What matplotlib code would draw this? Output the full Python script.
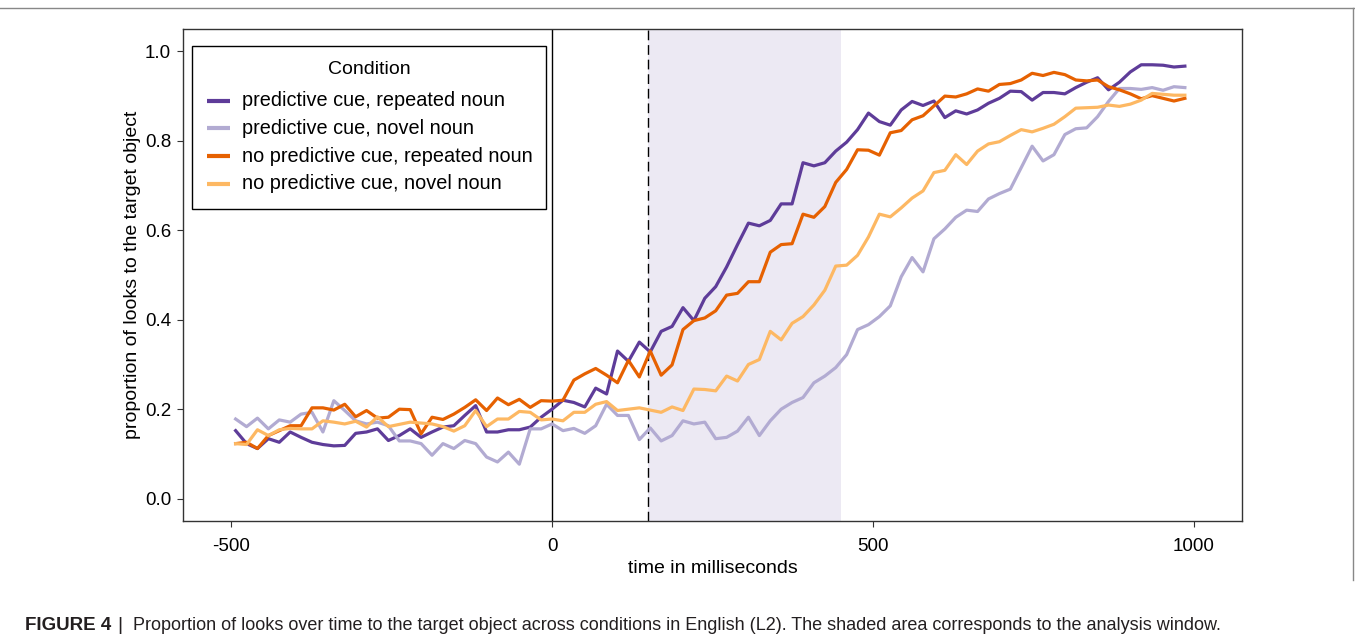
import numpy as np
import matplotlib
matplotlib.use("Agg")
import matplotlib.pyplot as plt
from matplotlib.lines import Line2D
from matplotlib.patches import Rectangle

plt.rcParams['font.family'] = ['Liberation Sans', 'DejaVu Sans']

# ---- data ----
time_ms = np.arange(-493, 987, 17)

labels = ["predictive cue, repeated noun", "predictive cue, novel noun",
          "no predictive cue, repeated noun", "no predictive cue, novel noun"]
colors = ["#5e3c99", "#b2abd2", "#e66101", "#fdb863"]

pred_rep = [0.152, 0.123, 0.112, 0.134, 0.126, 0.149, 0.137, 0.126, 0.121, 0.118,
            0.119, 0.146, 0.149, 0.156, 0.130, 0.141, 0.156, 0.137, 0.149, 0.160,
            0.163, 0.186, 0.208, 0.149, 0.149, 0.154, 0.154, 0.160, 0.182, 0.200,
            0.220, 0.215, 0.205, 0.247, 0.234, 0.330, 0.307, 0.350, 0.328, 0.374,
            0.385, 0.427, 0.398, 0.448, 0.474,
            0.518, 0.568, 0.616, 0.610, 0.622, 0.659, 0.659, 0.751, 0.744, 0.751,
            0.777, 0.797, 0.825, 0.862, 0.843,
            0.835, 0.869, 0.888, 0.879, 0.889, 0.852, 0.867, 0.860, 0.869, 0.884,
            0.895, 0.911, 0.910, 0.891, 0.908,
            0.908, 0.905, 0.919, 0.931, 0.941, 0.914, 0.931, 0.954, 0.970, 0.970,
            0.969, 0.965, 0.967]

pred_nov = [0.178, 0.161, 0.180, 0.156, 0.176, 0.171, 0.189, 0.193, 0.149, 0.219,
            0.197, 0.174, 0.167, 0.171, 0.163, 0.129, 0.129, 0.123, 0.097, 0.123,
            0.112, 0.130, 0.123, 0.093, 0.082, 0.104, 0.077, 0.156, 0.156, 0.167,
            0.152, 0.157, 0.146, 0.163, 0.211, 0.186, 0.186, 0.132, 0.158, 0.129,
            0.141, 0.174, 0.167, 0.171, 0.134,
            0.137, 0.151, 0.182, 0.141, 0.174, 0.200, 0.215, 0.226, 0.259, 0.274,
            0.293, 0.322, 0.378, 0.389, 0.407,
            0.431, 0.496, 0.539, 0.507, 0.581, 0.603, 0.629, 0.645, 0.642, 0.670,
            0.682, 0.692, 0.740, 0.788, 0.755,
            0.769, 0.814, 0.827, 0.829, 0.854, 0.888, 0.917, 0.917, 0.915, 0.919,
            0.913, 0.921, 0.919]

nopred_rep = [0.123, 0.126, 0.112, 0.141, 0.152, 0.163, 0.163, 0.203, 0.203, 0.198,
              0.211, 0.183, 0.197, 0.180, 0.182, 0.200, 0.199, 0.145, 0.182, 0.177,
              0.189, 0.204, 0.221, 0.197, 0.225, 0.210, 0.222, 0.204, 0.219, 0.218,
              0.220, 0.265, 0.279, 0.291, 0.276, 0.259, 0.309, 0.272, 0.330, 0.276,
              0.299, 0.378, 0.398, 0.404, 0.420,
              0.455, 0.459, 0.485, 0.485, 0.551, 0.568, 0.570, 0.636, 0.629, 0.653,
              0.707, 0.736, 0.780, 0.779, 0.768,
              0.818, 0.823, 0.847, 0.856, 0.878, 0.900, 0.898, 0.905, 0.916, 0.911,
              0.926, 0.928, 0.936, 0.951, 0.946,
              0.953, 0.948, 0.936, 0.934, 0.936, 0.921, 0.914, 0.905, 0.894, 0.901,
              0.895, 0.889, 0.895]

nopred_nov = [0.123, 0.121, 0.154, 0.141, 0.154, 0.157, 0.156, 0.156, 0.174, 0.171,
              0.167, 0.173, 0.160, 0.183, 0.161, 0.166, 0.171, 0.169, 0.167, 0.161,
              0.151, 0.163, 0.197, 0.161, 0.178, 0.178, 0.195, 0.193, 0.176, 0.178,
              0.174, 0.193, 0.193, 0.211, 0.217, 0.197, 0.200, 0.203, 0.198, 0.193,
              0.205, 0.197, 0.245, 0.244, 0.241,
              0.274, 0.263, 0.300, 0.311, 0.374, 0.355, 0.392, 0.407, 0.433, 0.466,
              0.520, 0.522, 0.544, 0.585, 0.636,
              0.630, 0.650, 0.672, 0.688, 0.729, 0.734, 0.769, 0.747, 0.777, 0.793,
              0.798, 0.812, 0.825, 0.820, 0.828,
              0.837, 0.854, 0.873, 0.874, 0.875, 0.880, 0.877, 0.882, 0.891, 0.906,
              0.904, 0.902, 0.902]

series = [pred_rep, pred_nov, nopred_rep, nopred_nov]

x_ticks = [-500, 0, 500, 1000]
x_ticklabels = ["-500", "0", "500", "1000"]
y_ticks = [0.0, 0.2, 0.4, 0.6, 0.8, 1.0]
y_ticklabels = ["0.0", "0.2", "0.4", "0.6", "0.8", "1.0"]
window = (150, 450)
onset = 0

legend_title = "Condition"
caption_bold = "FIGURE 4"
caption_rest = "Proportion of looks over time to the target object across conditions in English (L2). The shaded area corresponds to the analysis window."

# ---- figure ----
W, H = 1355, 643
fig = plt.figure(figsize=(W / 100, H / 100), dpi=100)
ax = fig.add_axes([183 / W, 1 - 521 / H, (1242 - 183) / W, (521 - 29) / H])

ax.axvspan(window[0], window[1], color="#ece9f3", lw=0, zorder=0)
ax.axvline(onset, color="black", lw=1.0, zorder=1)
ax.axvline(window[0], color="black", lw=1.0, ls=(0, (7, 3.5)), zorder=1)

for vals, col, lab in zip(series, colors, labels):
    ax.plot(time_ms, vals, color=col, lw=2.3, label=lab, zorder=3)

ax.set_xlim(-575, 1075)
ax.set_ylim(-0.05, 1.05)
ax.set_xticks(x_ticks)
ax.set_xticklabels(x_ticklabels)
ax.set_yticks(y_ticks)
ax.set_yticklabels(y_ticklabels)
ax.tick_params(axis="both", direction="out", length=4.5, width=0.8,
               labelsize=13.5, colors="#333333", labelcolor="black")
ax.tick_params(axis="x", pad=8)
ax.tick_params(axis="y", pad=4)
for s in ax.spines.values():
    s.set_color("#333333")
    s.set_linewidth(1.0)

ax.set_xlabel("time in milliseconds", fontsize=14, labelpad=3.5)
ax.set_ylabel("proportion of looks to the target object", fontsize=14, labelpad=2.5)

# ---- legend (drawn by hand in pixel coordinates) ----
def fx(px):
    return px / W

def fy(py):
    return 1 - py / H

fig.add_artist(Rectangle((fx(192), fy(209)), fx(546) - fx(192), fy(45.7) - fy(209),
                         transform=fig.transFigure, facecolor="white",
                         edgecolor="black", lw=1.0, zorder=5))
fig.text(fx(369), fy(69), legend_title, fontsize=14, ha="center", va="center",
         zorder=6)
entry_y = [100.7, 128.3, 156.0, 183.5]
for ey, col, lab in zip(entry_y, colors, labels):
    fig.add_artist(Line2D([fx(207), fx(229.5)], [fy(ey), fy(ey)],
                          transform=fig.transFigure, color=col, lw=3.0,
                          solid_capstyle="butt", zorder=6))
    fig.text(fx(242.5), fy(ey), lab, fontsize=14.3, ha="left", va="center",
             zorder=6)

# page frame lines
fig.add_artist(Line2D([0, 1], [fy(7.5), fy(7.5)], transform=fig.transFigure,
                      color="#888888", lw=1.0))
fig.add_artist(Line2D([fx(1352.5), fx(1352.5)], [fy(7.5), fy(580)],
                      transform=fig.transFigure, color="#888888", lw=1.0))

# caption
fig.canvas.draw()
r = fig.canvas.get_renderer()
cy = fy(626)
t1 = fig.text(fx(25), cy, caption_bold, fontsize=13.5, fontweight="bold",
              color="#231f20", va="center", ha="left")
bb = t1.get_window_extent(r)
t2 = fig.text(fx(bb.x1 + 6), cy, "|", fontsize=14, color="#231f20",
              va="center", ha="left")
t3 = fig.text(fx(133), cy, caption_rest, fontsize=12.5, color="#231f20",
              va="center", ha="left")
w3 = t3.get_window_extent(r).width
t3.set_fontsize(12.5 * (1225 - 133) / w3)

fig.savefig("out.png", dpi=100)
